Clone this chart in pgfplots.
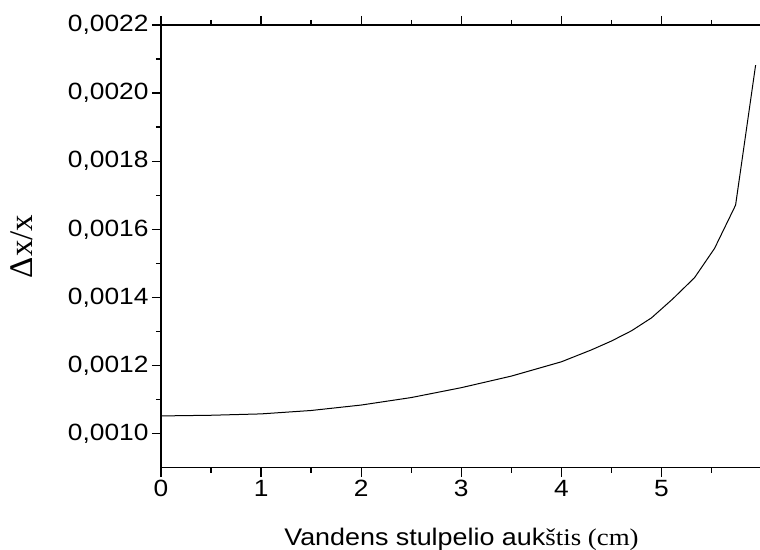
\documentclass[border=0pt]{standalone}
\usepackage{fontspec}
\setmainfont{Liberation Sans}[FakeStretch=1.12]
\newfontfamily\timesf{Liberation Serif}[FakeStretch=1.12]
\newfontfamily\timesplain{Liberation Serif}
\usepackage{pgfplots}
\pgfplotsset{compat=1.18}
\begin{document}
\begin{tikzpicture}
\useasboundingbox (0,0) rectangle (760pt,549pt);
\begin{axis}[
  at={(161pt,81.3pt)}, anchor=south west,
  scale only axis, width=601pt, height=442.7pt,
  xmin=0, xmax=6.004, ymin=0.0009, ymax=0.0022,
  xtick={0,1,2,3,4,5},
  minor xtick={0.5,1.5,2.5,3.5,4.5,5.5},
  ytick={0.0010,0.0012,0.0014,0.0016,0.0018,0.0020,0.0022},
  minor ytick={0.0011,0.0013,0.0015,0.0017,0.0019,0.0021},
  tick align=outside, major tick length=9pt, minor tick length=5pt,
  axis line style={line width=1.4pt},
  tick style={line width=1.4pt, black},
  scaled y ticks=false,
  yticklabel style={/pgf/number format/.cd, fixed, fixed zerofill, precision=4, use comma},
  /pgf/number format/assume math mode=true,
  tick label style={font=\fontsize{23.5}{26}\selectfont},
  xlabel={Vandens stulpelio auk{\timesf štis (cm)}},
  xlabel style={font=\fontsize{24}{28}\selectfont, at={(axis description cs:0.5,-0.1746)}, anchor=base},
  ylabel={{\timesplain Δx/x}},
  ylabel style={font=\fontsize{33}{36}\selectfont, at={(axis description cs:-0.2313,0.5)}, anchor=center},
]
\addplot[black, line width=1pt] coordinates {
(0,0.001052) (0.5,0.001054) (1.0,0.001058) (1.5,0.001068) (2.0,0.001084)
(2.5,0.001106) (3.0,0.001135) (3.5,0.001169) (4.0,0.001211) (4.3,0.001246)
(4.5,0.001272) (4.7,0.001302) (4.9,0.001340) (5.11,0.001395) (5.33,0.001458)
(5.53,0.001544) (5.74,0.001671) (5.94,0.002082)
};
\end{axis}
\end{tikzpicture}
\end{document}
